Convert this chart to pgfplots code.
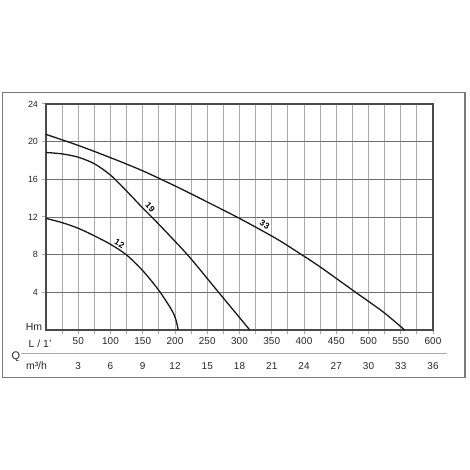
\documentclass[border=0pt]{standalone}
\usepackage{fontspec}
\setmainfont{Liberation Sans}
\usepackage{pgfplots}
\pgfplotsset{compat=1.18}
\definecolor{gridv}{HTML}{ABABAB}
\definecolor{gridh}{HTML}{6E6E6E}
\definecolor{framec}{HTML}{4A4A4A}
\definecolor{outer}{HTML}{7A7A7A}
\begin{document}
\begin{tikzpicture}[x=1bp,y=1bp]
\path[use as bounding box] (0,0) rectangle (470,470);
\draw[outer, line width=1.8bp] (2.5,92.5) rectangle (465,377.5);
\begin{axis}[at={(46bp,140bp)}, anchor=south west, scale only axis,
  width=387bp, height=226bp,
  xmin=0, xmax=600, ymin=0, ymax=24,
  xtick={50,100,...,600}, minor xtick={25,75,...,575}, ytick={4,8,...,24},
  xtick pos=bottom, ytick pos=left, tick align=outside,
  major tick length=4.5bp, minor tick length=4.5bp,
  every tick/.style={gridv, line width=1bp},
  xmajorgrids, xminorgrids, ymajorgrids,
  major grid style={gridv, line width=1bp},
  minor grid style={gridv, line width=1bp},
  y grid style={gridh, line width=0.9bp},
  axis line style={framec, line width=1.4bp},
  xticklabel style={font=\fontsize{10}{11}\selectfont, text=black!85},
  yticklabel style={font=\fontsize{9}{10}\selectfont, text=black!85},
  /pgf/number format/assume math mode=true,
  clip=false,
]
% curve 33
\addplot[smooth, black!90, line width=1.3bp] coordinates {
(0,20.77) (50,19.6) (100,18.3) (150,16.9) (200,15.3) (244,13.8) (300,11.85)
(357,9.7) (394,8.1) (425,6.7) (476,4.2) (523,1.9) (556,0)};
% curve 19
\addplot[smooth, black!90, line width=1.3bp] coordinates {
(0,18.85) (25,18.7) (50,18.35) (75,17.65) (100,16.45) (125,14.75) (150,12.95)
(164,12.0) (192,10.0) (223,7.7) (264,4.3) (290,2.15) (316,0)};
% curve 12
\addplot[smooth, black!90, line width=1.3bp] coordinates {
(0,11.85) (25,11.4) (50,10.8) (75,10.0) (100,9.1) (125,7.96) (150,6.3)
(175,4.2) (195,2.1) (201.5,1.06) (205,0)};
\node[rotate=-48, inner sep=0.5pt, font=\fontsize{8.5}{9}\selectfont\bfseries] at (axis cs:161.5,13.05) {19};
\node[rotate=-31, inner sep=0.5pt, font=\fontsize{8.5}{9}\selectfont\bfseries] at (axis cs:114,9.15) {12};
\node[rotate=-29, inner sep=0.5pt, font=\fontsize{8.5}{9}\selectfont\bfseries] at (axis cs:339,11.2) {33};
\foreach \q/\m in {50/3,100/6,150/9,200/12,250/15,300/18,350/21,400/24,450/27,500/30,550/33,600/36}{
  \edef\tmp{\noexpand\node[font=\noexpand\fontsize{10}{11}\noexpand\selectfont, text=black!85] at (axis cs:\q,0) [yshift=-36bp] {\m};}
  \tmp
}
\end{axis}
\node[font=\fontsize{10.5}{12}\selectfont, text=black!85] at (34,143) {Hm};
\node[font=\fontsize{10.5}{11}\selectfont, text=black!85] at (40,126.5) {L / 1'};
\node[font=\fontsize{10.5}{11}\selectfont, text=black!85] at (36.5,104) {m³/h};
\node[font=\fontsize{11}{13}\selectfont, text=black!85] at (16,113) {Q};
\draw[gridv, line width=0.9bp] (21,117) -- (447,117);
\end{tikzpicture}
\end{document}
